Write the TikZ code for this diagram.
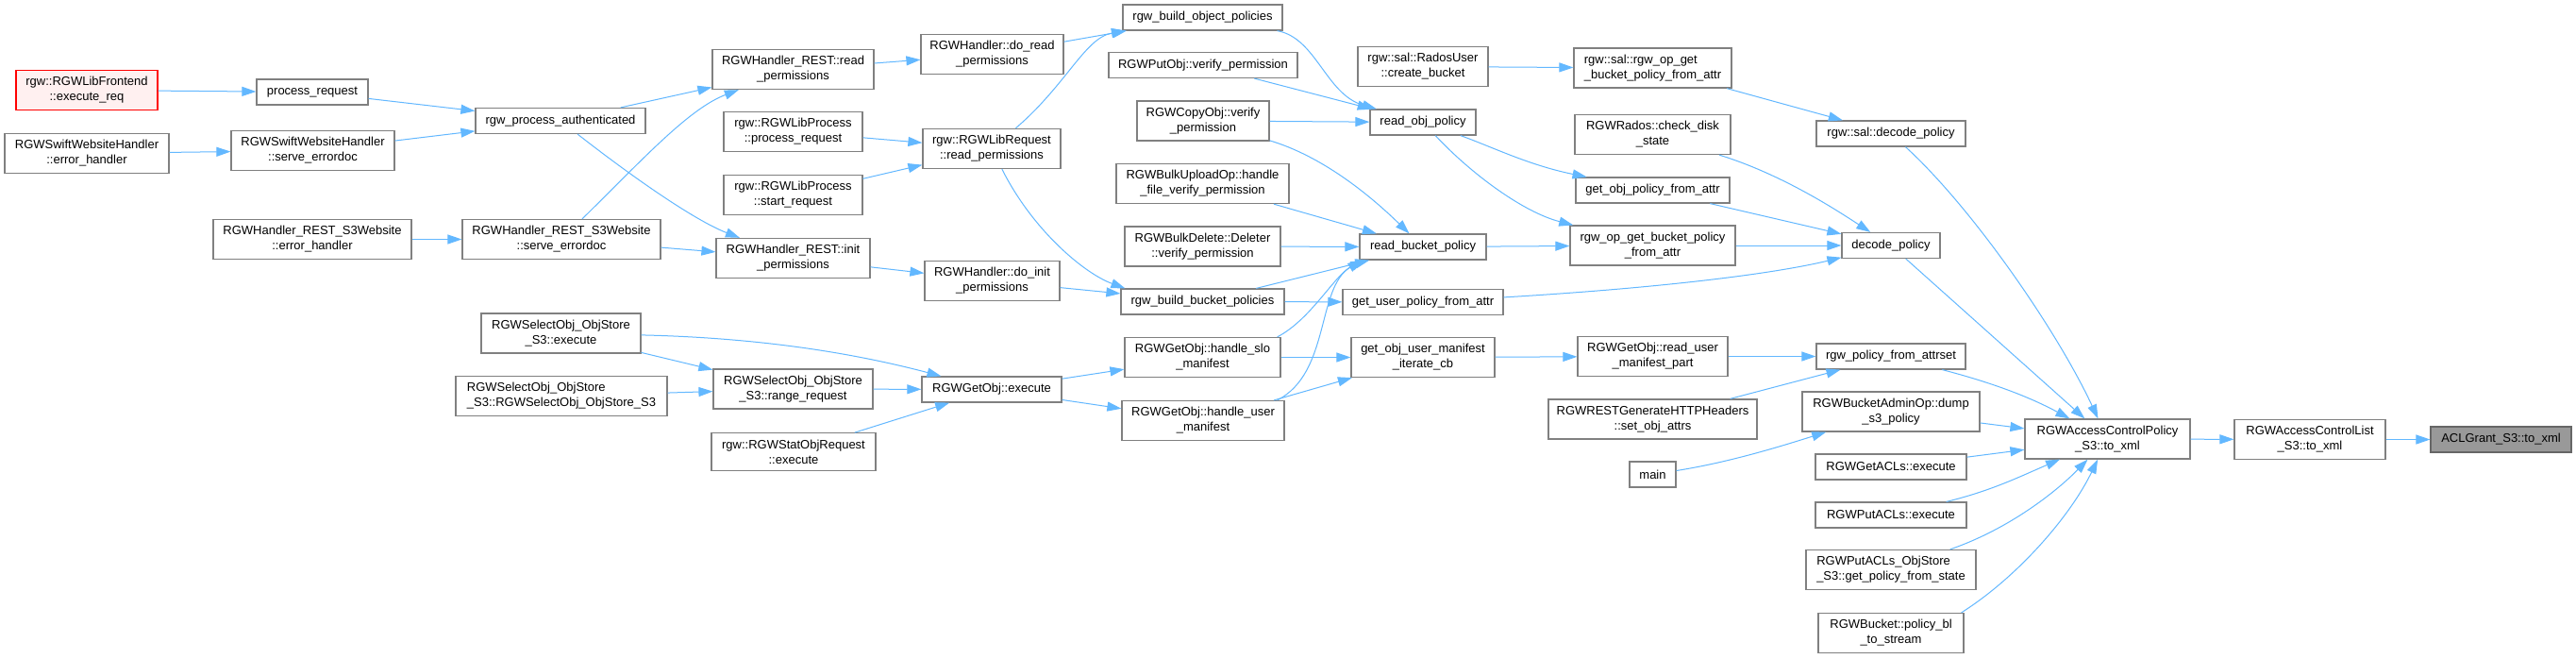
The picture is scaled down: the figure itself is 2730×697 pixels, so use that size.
\documentclass[tikz,border=0pt]{standalone}
\usepackage{fontspec}
\setmainfont{Liberation Sans}
\usetikzlibrary{arrows.meta}

\definecolor{edgeblue}{HTML}{63B8FF}
\definecolor{boxgray}{HTML}{808080}
\definecolor{darkgray}{HTML}{666666}
\definecolor{redfill}{HTML}{FFF0F0}
\definecolor{grayfill}{HTML}{999999}

\tikzset{
  fnbox/.style={draw=boxgray, fill=white, line width=1.2pt, inner xsep=3pt, inner ysep=7pt,
    minimum height=27pt, align=center, font=\fontsize{13}{16}\selectfont},
  fnred/.style={fnbox, draw=red, fill=redfill},
  fngray/.style={fnbox, draw=darkgray, fill=grayfill},
  calledge/.style={draw=edgeblue, line width=1pt, -{Triangle[length=15pt,width=10pt]}},
}

\begin{document}
\begin{tikzpicture}[x=1pt, y=-1pt]
    \fill[white] (0,0) rectangle (2730,697);
    \useasboundingbox (0,0) rectangle (2730,697);

    % Callers, left part
    \node[fnred, minimum width=150pt] (exreq) at (92,95.5) {rgw::RGWLibFrontend\\::execute\_req};
    \node[fnbox, minimum width=174pt] (swerr) at (92,162.5) {RGWSwiftWebsiteHandler\\::error\_handler};
    \node[fnbox, minimum width=118pt] (preq) at (331,97.5) {process\_request};
    \node[fnbox, minimum width=173pt] (swsrv) at (331.5,159.5) {RGWSwiftWebsiteHandler\\::serve\_errordoc};
    \node[fnbox, minimum width=210pt] (s3werr) at (331,253.5) {RGWHandler\_REST\_S3Website\\::error\_handler};
    \node[fnbox, minimum width=180pt] (rpa) at (594,128) {rgw\_process\_authenticated};
    \node[fnbox, minimum width=210pt] (s3wsrv) at (595,253.5) {RGWHandler\_REST\_S3Website\\::serve\_errordoc};
    \node[fnbox, minimum width=169pt] (selex) at (594.5,353) {RGWSelectObj\_ObjStore\\\_S3::execute};
    \node[fnbox, align=left, minimum width=224pt] (selctor) at (595,419.5) {RGWSelectObj\_ObjStore\\\_S3::RGWSelectObj\_ObjStore\_S3};

    \node[fnbox, minimum width=171pt] (rdperm) at (840.5,73.5) {RGWHandler\_REST::read\\\_permissions};
    \node[fnbox, minimum width=147pt] (lpproc) at (840.5,139.5) {rgw::RGWLibProcess\\::process\_request};
    \node[fnbox, minimum width=147pt] (lpstart) at (840.5,206.5) {rgw::RGWLibProcess\\::start\_request};
    \node[fnbox, minimum width=163pt] (inperm) at (840.5,273.5) {RGWHandler\_REST::init\\\_permissions};
    \node[fnbox, minimum width=169pt] (rangereq) at (840.5,412) {RGWSelectObj\_ObjStore\\\_S3::range\_request};
    \node[fnbox, minimum width=174pt] (statex) at (841,478.5) {rgw::RGWStatObjRequest\\::execute};

    \node[fnbox, minimum width=151pt] (dordperm) at (1051.5,57.5) {RGWHandler::do\_read\\\_permissions};
    \node[fnbox, minimum width=146pt] (lrqperm) at (1051,157.5) {rgw::RGWLibRequest\\::read\_permissions};
    \node[fnbox, minimum width=143pt] (doinperm) at (1051.5,297.5) {RGWHandler::do\_init\\\_permissions};
    \node[fnbox, minimum width=148pt] (getex) at (1051,412.5) {RGWGetObj::execute};

    % Permission checks
    \node[fnbox, minimum width=169pt] (bop) at (1274.5,18.5) {rgw\_build\_object\_policies};
    \node[fnbox, minimum width=200pt] (putver) at (1275,69) {RGWPutObj::verify\_permission};
    \node[fnbox, minimum width=140pt] (copyver) at (1275,128) {RGWCopyObj::verify\\\_permission};
    \node[fnbox, minimum width=183pt] (bulkup) at (1274.5,194.5) {RGWBulkUploadOp::handle\\\_file\_verify\_permission};
    \node[fnbox, minimum width=165pt] (bulkdel) at (1274.5,261) {RGWBulkDelete::Deleter\\::verify\_permission};
    \node[fnbox, minimum width=173pt] (bbp) at (1274.5,319.5) {rgw\_build\_bucket\_policies};
    \node[fnbox, minimum width=165pt] (slo) at (1274.5,378.5) {RGWGetObj::handle\_slo\\\_manifest};
    \node[fnbox, minimum width=172pt] (usrman) at (1275,445.5) {RGWGetObj::handle\_user\\\_manifest};

    \node[fnbox, minimum width=138pt] (crbkt) at (1508,70.5) {rgw::sal::RadosUser\\::create\_bucket};
    \node[fnbox, minimum width=112pt] (rop) at (1508,129.5) {read\_obj\_policy};
    \node[fnbox, minimum width=134pt] (rbp) at (1508,261.5) {read\_bucket\_policy};
    \node[fnbox, minimum width=170pt] (gupa) at (1508,320) {get\_user\_policy\_from\_attr};
    \node[fnbox, minimum width=152pt] (itercb) at (1508,378.5) {get\_obj\_user\_manifest\\\_iterate\_cb};

    \node[fnbox, align=left, minimum width=167pt] (salrop) at (1751.5,72) {rgw::sal::rgw\_op\_get\\\_bucket\_policy\_from\_attr};
    \node[fnbox, minimum width=165pt] (chkdisk) at (1751.5,142.5) {RGWRados::check\_disk\\\_state};
    \node[fnbox, minimum width=163pt] (gopa) at (1751.5,201.5) {get\_obj\_policy\_from\_attr};
    \node[fnbox, minimum width=175pt] (ropbpa) at (1751.5,260) {rgw\_op\_get\_bucket\_policy\\\_from\_attr};
    \node[fnbox, minimum width=159pt] (rump) at (1751.5,377.5) {RGWGetObj::read\_user\\\_manifest\_part};
    \node[fnbox, minimum width=221pt] (setattr) at (1751.5,444) {RGWRESTGenerateHTTPHeaders\\::set\_obj\_attrs};
    \node[fnbox, minimum width=49pt] (mainfn) at (1751.5,502.5) {main};

    % Direct callers of the policy dump
    \node[fnbox, minimum width=158pt] (saldec) at (2004,141.5) {rgw::sal::decode\_policy};
    \node[fnbox, minimum width=104pt] (dec) at (2004,260) {decode\_policy};
    \node[fnbox, minimum width=158pt] (rpfa) at (2004,377.5) {rgw\_policy\_from\_attrset};
    \node[fnbox, minimum width=188pt] (dump) at (2004,436) {RGWBucketAdminOp::dump\\\_s3\_policy};
    \node[fnbox, minimum width=160pt] (getacl) at (2004,494.5) {RGWGetACLs::execute};
    \node[fnbox, minimum width=160pt] (putacl) at (2004,545.5) {RGWPutACLs::execute};
    \node[fnbox, align=left, minimum width=180pt] (putaclos) at (2004,603.5) {RGWPutACLs\_ObjStore\\\_S3::get\_policy\_from\_state};
    \node[fnbox, minimum width=154pt] (polbl) at (2004,670.5) {RGWBucket::policy\_bl\\\_to\_stream};

    \node[fnbox, minimum width=175pt] (acp) at (2233.5,465) {RGWAccessControlPolicy\\\_S3::to\_xml};
    \node[fnbox, minimum width=160pt] (acl) at (2448,465.5) {RGWAccessControlList\\\_S3::to\_xml};
    \node[fngray, minimum width=149pt] (grant) at (2650.5,465.5) {ACLGrant\_S3::to\_xml};

    % Calls
    \draw[calledge] (exreq) -- (preq);
    \draw[calledge] (preq) -- (rpa);
    \draw[calledge] (swerr) -- (swsrv);
    \draw[calledge] (swsrv) -- (rpa);
    \draw[calledge] (s3werr) -- (s3wsrv);
    \draw[calledge] (rpa) -- (rdperm);
    \draw[calledge] (rpa) .. controls (680,195) and (740,235) .. (inperm);
    \draw[calledge] (s3wsrv) .. controls (680,170) and (730,115) .. (rdperm);
    \draw[calledge] (s3wsrv) -- (inperm);
    \draw[calledge] (rdperm) -- (dordperm);
    \draw[calledge] (lpproc) -- (lrqperm);
    \draw[calledge] (lpstart) -- (lrqperm);
    \draw[calledge] (inperm) -- (doinperm);
    \draw[calledge] (dordperm) -- (bop);
    \draw[calledge] (lrqperm) .. controls (1130,90) and (1150,40) .. (bop);
    \draw[calledge] (lrqperm) .. controls (1095,245) and (1150,290) .. ([xshift=5pt]bbp.north west);
    \draw[calledge] (doinperm) -- (bbp);
    \draw[calledge] (selex) -- (rangereq);
    \draw[calledge] (selctor) -- (rangereq);
    \draw[calledge] (selex) .. controls (820,358) and (920,378) .. (getex);
    \draw[calledge] (rangereq) -- (getex);
    \draw[calledge] (statex) -- (getex);
    \draw[calledge] (getex) -- (slo);
    \draw[calledge] (getex) -- (usrman);

    \draw[calledge] (bop) .. controls (1395,40) and (1405,100) .. (rop);
    \draw[calledge] (putver) -- (rop);
    \draw[calledge] (copyver) -- (rop);
    \draw[calledge] (copyver) .. controls (1400,165) and (1450,205) .. (rbp);
    \draw[calledge] (bulkup) -- (rbp);
    \draw[calledge] (bulkdel) -- (rbp);
    \draw[calledge] (bbp) -- (rbp);
    \draw[calledge] (bbp) -- (gupa);
    \draw[calledge] ([xshift=-4pt]slo.north east) .. controls (1390,338) and (1415,290) .. ([xshift=6pt]rbp.south west);
    \draw[calledge] ([xshift=-8pt]usrman.north east) .. controls (1410,395) and (1395,305) .. ([xshift=3pt]rbp.south west);
    \draw[calledge] (slo) -- (itercb);
    \draw[calledge] (usrman) -- (itercb);

    \draw[calledge] (crbkt) -- (salrop);
    \draw[calledge] (rop) .. controls (1580,155) and (1620,175) .. (gopa);
    \draw[calledge] (rop) .. controls (1560,185) and (1615,225) .. (ropbpa);
    \draw[calledge] (rbp) -- (ropbpa);
    \draw[calledge] (itercb) -- (rump);
    \draw[calledge] (salrop) -- (saldec);
    \draw[calledge] (chkdisk) .. controls (1890,185) and (1950,225) .. (dec);
    \draw[calledge] (gopa) -- (dec);
    \draw[calledge] (ropbpa) -- (dec);
    \draw[calledge] (gupa) .. controls (1760,305) and (1880,290) .. (dec);
    \draw[calledge] (rump) -- (rpfa);
    \draw[calledge] (setattr) -- (rpfa);
    \draw[calledge] (mainfn) .. controls (1830,490) and (1880,475) .. (dump);

    \draw[calledge] (saldec) .. controls (2090,220) and (2180,350) .. (acp);
    \draw[calledge] (dec) -- (acp);
    \draw[calledge] (rpfa) .. controls (2110,405) and (2150,420) .. (acp);
    \draw[calledge] (dump) -- (acp);
    \draw[calledge] (getacl) -- (acp);
    \draw[calledge] (putacl) .. controls (2110,520) and (2140,505) .. (acp);
    \draw[calledge] (putaclos) .. controls (2130,560) and (2180,520) .. (acp);
    \draw[calledge] ([xshift=-3pt]polbl.north east) .. controls (2140,610) and (2195,545) .. (acp);
    \draw[calledge] (acp) -- (acl);
    \draw[calledge] (acl) -- (grant);
\end{tikzpicture}
\end{document}
